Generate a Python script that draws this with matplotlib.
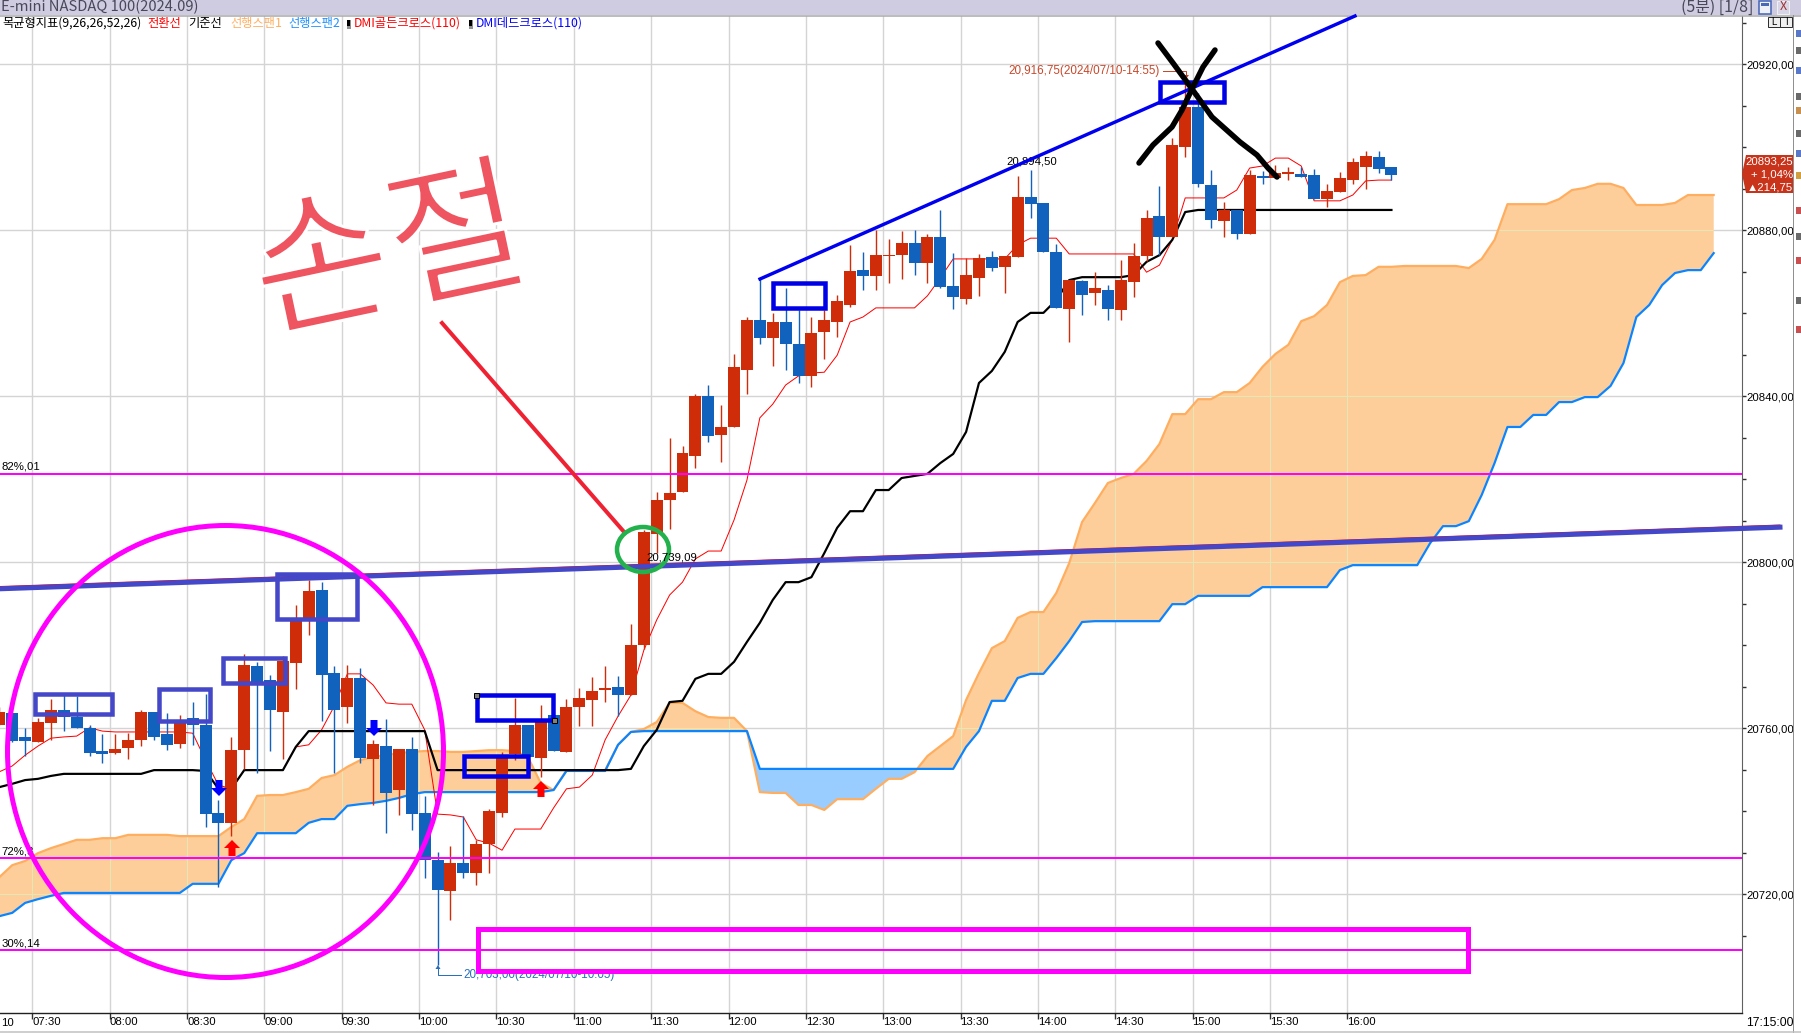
import matplotlib
matplotlib.use("Agg")
import matplotlib.pyplot as plt
import matplotlib.patheffects as pe
import numpy as np
from matplotlib.patches import Ellipse, Rectangle, Polygon
from matplotlib.path import Path

W, H = 1801, 1033
PX = 0.72  # one pixel in points at dpi 100
DIGITS = ['Liberation Sans', 'DejaVu Sans']
KOREAN = ['Noto Sans CJK KR', 'DejaVu Sans']

# 5 minute bars, the first one starts off the left edge
opens = [20760.75, 20763.75, 20758, 20756.75, 20761.25, 20764.5, 20762.75, 20760, 20754.5, 20754, 20755.25, 20757.25,
         20764, 20758.5, 20756.25, 20762.5, 20760.75, 20739.5, 20737.25, 20754.75, 20775, 20771.5, 20764, 20775.75,
         20786.25, 20793.25, 20773.25, 20765, 20772, 20752.5, 20755.75, 20745, 20755, 20739.5, 20728.25, 20720.75,
         20727.5, 20725, 20732, 20739.5, 20753.75, 20760.75, 20752.75, 20763.25, 20754.25, 20765, 20766.75, 20769.25,
         20770, 20768, 20780, 20806.75, 20815, 20817, 20825.5, 20840, 20830.75, 20832.5, 20846.25, 20858.5, 20854,
         20858, 20852.5, 20845, 20855.5, 20858, 20862, 20870.5, 20869, 20873.75, 20874, 20877, 20872, 20878.5,
         20866.5, 20863.5, 20868.5, 20873.5, 20871.25, 20873.5, 20888, 20886.5, 20874.75, 20861, 20867.75, 20865,
         20865.5, 20860.75, 20867.5, 20873.75, 20883.5, 20878.5, 20900, 20909.75, 20891, 20882.25, 20885, 20879,
         20893, 20892.5, 20893.5, 20893.5, 20893.25, 20887.5, 20889.25, 20892, 20895.25, 20897.75, 20895.25]
highs = [20765, 20763.75, 20760, 20762.5, 20767, 20768, 20767.75, 20760.75, 20758.5, 20758.5, 20758.75, 20764.5,
         20764, 20763.75, 20763.25, 20766.25, 20768.25, 20742.75, 20758, 20778, 20776, 20772.75, 20777.5, 20789.75,
         20795.75, 20795.25, 20775, 20775.25, 20774.5, 20757.25, 20762.25, 20755, 20758, 20743.75, 20730.25, 20731.5,
         20738.75, 20733, 20740.5, 20754.25, 20767.25, 20760.75, 20765.5, 20763.25, 20767, 20769.75, 20772.25, 20775,
         20772.5, 20785, 20807.75, 20817, 20830, 20828, 20840.5, 20842.75, 20838, 20850.25, 20859, 20868.25, 20860,
         20866, 20860.75, 20859, 20860.75, 20864.5, 20876.5, 20874.75, 20880, 20878, 20879.75, 20880, 20879, 20885,
         20874.5, 20873.25, 20874.25, 20875, 20873.75, 20893, 20894.5, 20886.5, 20876.75, 20868, 20868, 20870,
         20866.75, 20872.75, 20877, 20885, 20890.75, 20902.25, 20916.75, 20913, 20894.5, 20886.75, 20885, 20894.5,
         20894.25, 20895.75, 20895.25, 20895.25, 20894.75, 20891.25, 20894, 20897.5, 20899, 20899, 20895.25]
lows = [20760.75, 20756.75, 20753.25, 20756.75, 20757.25, 20759.25, 20760, 20753.25, 20751.5, 20753.75, 20752.5, 20755.75,
        20757.25, 20754.75, 20755.25, 20756, 20736.25, 20721.75, 20734, 20750.25, 20749.25, 20754.5, 20752.5, 20769.5,
        20782.5, 20761.75, 20749.25, 20761.25, 20751.5, 20741.5, 20734.75, 20739, 20735.5, 20724, 20703, 20713.75,
        20724, 20722.25, 20725, 20738.5, 20752.25, 20753, 20748.25, 20754.5, 20754.25, 20760.5, 20760.5, 20766.25,
        20763, 20768, 20779, 20802.25, 20808, 20817, 20822.75, 20829, 20824.25, 20832.5, 20840.5, 20852.5, 20847.25,
        20846.25, 20843.25, 20842.25, 20849, 20854.25, 20861.5, 20865.5, 20865.5, 20867.25, 20868.25, 20869.25, 20867.25,
        20866, 20861, 20862.25, 20864.25, 20870.25, 20865, 20873.5, 20883, 20874.75, 20861.25, 20853, 20859.5, 20862,
        20858.5, 20858.5, 20864, 20872.5, 20874, 20878.5, 20897.75, 20890.5, 20880.5, 20878.5, 20878, 20879,
        20891.25, 20892.5, 20892, 20892.75, 20887.5, 20885.5, 20889.25, 20891.25, 20890, 20893.75, 20892]
closes = [20764, 20757, 20757, 20761.5, 20764.5, 20762.75, 20760, 20754, 20753.75, 20755, 20757.25, 20764,
          20758, 20756, 20761.25, 20760.75, 20739.25, 20737.25, 20754.75, 20775.25, 20771, 20764.5, 20776.25, 20786.5,
          20793, 20772.75, 20764.5, 20772, 20752.75, 20756.25, 20744.5, 20755, 20739.25, 20728.25, 20721, 20727.5,
          20725, 20732, 20740, 20753, 20760.75, 20753, 20761.5, 20754.5, 20765, 20767.25, 20769, 20769.75,
          20768, 20780, 20807.25, 20815, 20816.75, 20826.25, 20840, 20830.5, 20832.5, 20847, 20858.5, 20854, 20858,
          20852.5, 20845, 20855.25, 20858.5, 20863, 20870.25, 20869, 20874, 20874, 20877, 20872, 20878.5,
          20866.25, 20864, 20869.25, 20873.25, 20871, 20873.75, 20888, 20886.25, 20874.75, 20861.25, 20868, 20864.5, 20866,
          20861, 20868, 20873.75, 20883, 20878.5, 20900.5, 20909.75, 20891.25, 20882.5, 20885, 20879, 20893.25,
          20892.5, 20893.75, 20894, 20892.75, 20887.5, 20889.5, 20892.5, 20896.5, 20898, 20894.75, 20893.25]

tenkan = [20749.5, 20750.9, 20753.5, 20755.7, 20757.6, 20757.9, 20758.1, 20760.1, 20759.3] + [20759.1] * 6 + \
         [20758.8, 20752.3, 20746.3, 20745.4] + [20749.9] * 4 + \
         [20755.5, 20756, 20759.6, 20765.4, 20773.1, 20773.1, 20770.4, 20766.1, 20765.8, 20765.8, 20759.6, 20739.3,
          20739.1, 20738.6, 20733.1, 20732.3, 20730.6, 20735.7, 20735.7, 20735.7, 20740.8, 20745.4, 20745.8, 20748.7,
          20757.2, 20762.9, 20768, 20778.8, 20786.1, 20792.1, 20795.2, 20800.8, 20802.7, 20802.7, 20810.2, 20819.8,
          20834.8, 20838.1, 20842.7, 20844.9, 20845.6, 20845.8, 20849.9, 20857.9, 20859.1] + [20861.3] * 4 + \
         [20864.2, 20868.5] + [20873.1] * 5 + [20876.5] + [20878.1] * 3 + [20874.3] * 6 + \
         [20869.9, 20871.6, 20877.7] + [20887.8] * 4 + \
         [20889.7, 20895, 20895.5, 20897.4, 20897.4, 20895.5] + [20887.1] * 3 + [20888.5, 20891.9, 20892.1, 20892.1]
kijun = [20745.8, 20746.6, 20747.5, 20747.8, 20748.5, 20749] + [20749] * 6 + [20749.9] * 4 + \
        [20749.7, 20745.4, 20745.4] + [20749.9] * 4 + [20755.5] + [20759.3] * 10 + [20749.9] * 15 + \
        [20750.2, 20755.7, 20759.6, 20766.3, 20766.6, 20771.9, 20773.1, 20773.1, 20776, 20780.8, 20785.4, 20790.9,
         20795.2, 20795.2, 20796.4, 20802.2, 20808.3, 20812.3, 20812.3, 20817.4, 20817.4, 20820.3, 20820.8, 20821.3,
         20823.9, 20826.1, 20831.4, 20843.2, 20846.1, 20850.7, 20857.9, 20860.1, 20860.1, 20863.2, 20868] + \
        [20868.7] * 4 + [20869.2, 20872.4, 20874, 20877.7, 20884.4] + [20884.9] * 16
span1 = [20724.1, 20727, 20728, 20729.9, 20731.1, 20732.1, 20733.1, 20733.1, 20733.5, 20733.5, 20734.3, 20734.3,
         20734.3, 20734.3, 20734, 20734, 20734, 20734, 20736.2, 20738.1, 20743.7, 20743.9, 20743.9, 20744.6, 20745.4,
         20748, 20748.7, 20750.7, 20752.3, 20753.1, 20753.5, 20754, 20754.3, 20754.5, 20754.5, 20754.3, 20754.3,
         20754.5, 20754.7, 20754.7, 20754.5, 20753.1, 20746.8, 20745.1] + [20749.9] * 4 + \
        [20756, 20759.1, 20759.8, 20761.5, 20766.1, 20766.1, 20764.1, 20762.7, 20762.5, 20762.5, 20759.3, 20744.6,
         20744.4, 20744.4, 20741.5, 20741.5, 20740.3] + [20742.9] * 3 + \
        [20745.4, 20747.8, 20747.8, 20749.4, 20753.3, 20755.7, 20758.1, 20766.8, 20773.3, 20779.3, 20781, 20786.6,
         20788, 20788, 20792.6, 20799.8, 20809.7, 20814.3, 20819.1, 20820.3, 20821.3, 20824.4, 20828.5, 20835.7,
         20835.7, 20839.3, 20839.3, 20841, 20841, 20843.2, 20847.1, 20850.2, 20852.4, 20858.1, 20859.3, 20862,
         20867.5, 20869, 20869.2, 20871.2, 20871.2] + [20871.4] * 5 + [20870.9, 20873.1, 20877.7] + [20886.3] * 4 + \
        [20887.5, 20889.7, 20890.2, 20891.2, 20891.2, 20890.2] + [20886.1] * 3 + [20886.6] + [20888.5] * 3
span2 = [20714.7, 20715.5, 20717.9, 20718.8, 20719.6, 20720.3] + [20720.3] * 9 + [20722.5] * 3 + \
        [20728.2, 20729.9] + [20734.7] * 4 + [20737.2, 20738.1, 20738.1, 20741.3, 20741.7, 20742, 20742.5, 20743.2,
                                              20744.1] + [20744.6] * 10 + [20745.1] + [20749.7] * 4 + \
        [20756, 20759.1] + [20759.3] * 9 + [20750.2] * 16 + \
        [20755.5, 20759.3, 20766.6, 20766.6, 20772.1, 20773.1, 20773.1, 20776.9, 20781, 20785.6] + [20785.8] * 6 + \
        [20789.9, 20789.9] + [20791.9] * 5 + [20794] * 6 + [20798.1] + [20799.3] * 6 + \
        [20804.6, 20808.7, 20808.7, 20809.9, 20816.2, 20823.9, 20832.6, 20832.6, 20835.5, 20835.5, 20838.6, 20838.6,
         20839.8, 20839.8, 20842.5, 20848, 20859.1, 20862, 20866.8, 20869.7, 20870.4, 20870.4, 20874.5]

levels = [20821.3, 20728.7, 20706.5]
level_labels = ['82%,01', '72%,3', '30%,14']
time_labels = ['07:30', '08:00', '08:30', '09:00', '09:30', '10:00', '10:30', '11:00', '11:30', '12:00', '12:30',
               '13:00', '13:30', '14:00', '14:30', '15:00', '15:30', '16:00']
price_ticks = [20720, 20760, 20800, 20840, 20880, 20920]
minor_ticks = [20710, 20730, 20740, 20750, 20770, 20780, 20790, 20810, 20820, 20830, 20850, 20860, 20870, 20890, 20900,
               20910, 20930]

# hand drawn things on the screenshot, in screen pixels
x_stroke1 = [(1158, 43), (1173, 63), (1192, 89), (1212, 117), (1240, 142), (1257, 155), (1268, 168), (1277, 177)]
x_stroke2 = [(1215, 50), (1203, 67), (1192, 89), (1182, 110), (1172, 127), (1153, 145), (1139, 163)]
purple_boxes = [(35, 694, 77, 20), (159, 689, 51, 32), (223, 658, 62, 25), (277, 574, 80, 45)]
blue_boxes = [(477, 695, 76, 25), (464, 756, 64, 20), (773, 283, 52, 25), (1160, 82, 64, 20)]
toolbar_y = [30, 47, 67, 93, 107, 130, 150, 172, 207, 233, 257, 297, 326]
toolbar_colors = ['#5a78c8', '#6a6a6a', '#5a78c8', '#6a6a6a', '#c89050', '#6a6a6a', '#5a78c8', '#d0a040', '#c85050',
                  '#6a6a6a', '#c85050', '#6a6a6a', '#c85050']

fig = plt.figure(figsize=(W / 100, H / 100), dpi=100, facecolor='white')
ax = fig.add_axes([0, 1 - 1013 / H, 1742 / W, (1013 - 16) / H])
ax.set_xlim(-38 / 12.89, (1742 - 38) / 12.89)
ax.set_ylim(20935.5 - 0.241 * 1013, 20935.5 - 0.241 * 16)

bars = np.arange(-3, -3 + len(opens))
cloud_x = np.arange(-3, -3 + len(span1))
line_x = np.arange(-3, -3 + len(kijun))
s1 = np.array(span1)
s2 = np.array(span2)

tick_x = -0.43 + 6 * np.arange(len(time_labels))
ax.set_xticks(tick_x)
ax.set_xticklabels(time_labels, family=DIGITS, fontsize=8.2, ha='left')
ax.yaxis.tick_right()
ax.set_yticks(price_ticks)
ax.set_yticklabels(['%d,00' % p for p in price_ticks], family=DIGITS, fontsize=8.2)
ax.set_yticks(minor_ticks, minor=True)
ax.tick_params(axis='y', which='both', length=3, width=1, color='#303030', pad=0)
ax.tick_params(axis='x', length=4, width=1, color='#303030', pad=-1)
ax.grid(True, color='#d4d4d4', lw=1.4 * PX, zorder=0)
ax.set_axisbelow(True)
for s in ['top', 'left']:
    ax.spines[s].set_visible(False)
ax.spines['right'].set_color('#606060')
ax.spines['bottom'].set_color('#202020')
ax.spines['bottom'].set_linewidth(1.4 * PX)

orange = ax.fill_between(cloud_x, s1, s2, where=s1 >= s2, interpolate=True, color='#fdcd9a', lw=0, zorder=1)
ax.fill_between(cloud_x, s1, s2, where=s1 <= s2, interpolate=True, color='#9acdff', lw=0, zorder=1)

# grid shows through the cloud as a pale green
clip = Path.make_compound_path(*orange.get_paths())
for t in tick_x:
    ax.axvline(t, color='#e3e8b4', lw=PX, zorder=1.1).set_clip_path(clip, ax.transData)
for p in price_ticks:
    ax.axhline(p, color='#e3e8b4', lw=PX, zorder=1.1).set_clip_path(clip, ax.transData)

ax.plot(cloud_x, span1, color='#ffae60', lw=2.2 * PX, zorder=2)
ax.plot(cloud_x, span2, color='#0a84ff', lw=2.2 * PX, zorder=2)
ax.plot(line_x, tenkan, color='#ff0000', lw=1.0 * PX, zorder=2.2)
ax.plot(line_x, kijun, color='#000000', lw=2.2 * PX, zorder=2.4)

o = np.array(opens)
c = np.array(closes)
colors = np.where(c >= o, '#cf2c0a', '#1062bd')
ax.vlines(bars, lows, highs, colors=colors, lw=1.4 * PX, zorder=3)
ax.bar(bars, np.maximum(np.abs(c - o), 0.4), bottom=np.minimum(o, c), width=0.93, color=colors, lw=0, zorder=3.1)

for lv in levels:
    ax.axhline(lv, color='#ff00ff', lw=2 * PX, zorder=4)
for lv, lab in zip(levels, level_labels):
    ax.text(0.001, lv + 1.7, lab, transform=ax.get_yaxis_transform(), family=DIGITS, fontsize=8.2, va='center', zorder=5)

ov = fig.add_axes([0, 0, 1, 1], facecolor='none')
ov.set_xlim(0, W)
ov.set_ylim(H, 0)
ov.axis('off')

# window chrome
ov.add_patch(Rectangle((0, 0), W, 15, color='#cfcce2', lw=0))
ov.plot([0, W], [15.5, 15.5], color='#a8a8a8', lw=1.5 * PX)
ov.text(1, 7, 'E-mini NASDAQ 100(2024.09)', family=KOREAN, fontsize=10.6, va='center', color='#484858')
ov.text(1753, 7, '(5분) [1/8]', family=KOREAN, fontsize=11.4, va='center', ha='right', color='#484858')
ov.add_patch(Rectangle((1759, 1), 12, 13, fc='#eef0f8', ec='#4a68b8', lw=1.6 * PX))
ov.add_patch(Rectangle((1761, 3), 8, 3, color='#4a68b8', lw=0))
ov.add_patch(Rectangle((1777, 1), 12, 13, fc='#d8d6e6', ec='#f0f0f0', lw=PX))
ov.text(1783, 7, 'X', family=KOREAN, fontsize=9, ha='center', va='center', color='#a03030')
ov.plot([1793, 1793], [15, 1033], color='#909090', lw=PX)
ov.add_patch(Rectangle((1768, 17), 12, 10, fc='#f0f0f0', ec='#303030', lw=PX))
ov.add_patch(Rectangle((1780, 17), 12, 10, fc='#f0f0f0', ec='#303030', lw=PX))
ov.text(1774, 22, 'L', family=DIGITS, fontsize=7, ha='center', va='center')
ov.text(1786, 22, 'I', family=DIGITS, fontsize=7, ha='center', va='center')
for ty, tc in zip(toolbar_y, toolbar_colors):
    ov.add_patch(Rectangle((1796, ty), 5, 7, color=tc, lw=0))
ov.plot([0, W], [1032, 1032], color='#c0c0c0', lw=1.5 * PX)

# indicator legend
legend_items = [(2, '목균형지표(9,26,26,52,26)', 'black'), (147, '전환선', 'red'), (188, '기준선', 'black'),
                (230, '선행스팬1', '#ffae60'), (288, '선행스팬2', '#1e90ff'),
                (354, 'DMI골든크로스(110)', 'red'), (476, 'DMI데드크로스(110)', 'blue')]
for lx, txt, col in legend_items:
    ov.text(lx, 23.5, txt, family=KOREAN, fontsize=8.8, va='center', color=col)
for lx in [347, 469]:
    ov.add_patch(Rectangle((lx, 20), 4, 9, color='#909090', lw=0))
    ov.add_patch(Rectangle((lx, 20), 3, 6, color='black', lw=0))

# thick hand drawn lines
ov.plot([0, 1780], [586.5, 525], color='#ff0000', lw=1.0 * PX, zorder=2)
ov.plot([0, 1780], [588.8, 527.2], color='#4347c8', lw=5 * PX, zorder=3)
ov.plot([760, 1355], [279, 16], color='#0000f0', lw=3.4 * PX, zorder=3)
ov.plot([442, 625], [323, 533], color='#ee2233', lw=4 * PX, zorder=3)
for x0, y0, w, h in purple_boxes:
    ov.add_patch(Rectangle((x0, y0), w, h, fill=False, ec='#4347c8', lw=4.5 * PX, zorder=3))
for x0, y0, w, h in blue_boxes:
    ov.add_patch(Rectangle((x0, y0), w, h, fill=False, ec='#0000e6', lw=4.5 * PX, zorder=3))
for hx, hy in [(476, 695), (554, 720)]:
    ov.add_patch(Rectangle((hx - 2.5, hy - 2.5), 5, 5, fc='#808080', ec='black', lw=PX, zorder=4))
ov.add_patch(Rectangle((478, 929), 990, 42, fill=False, ec='#ff00ff', lw=5 * PX, zorder=3))
ov.add_patch(Ellipse((225.5, 751.5), 436, 452, fill=False, ec='#ff00ff', lw=5 * PX, zorder=3))
ov.add_patch(Ellipse((643, 549.5), 52, 45, fill=False, ec='#22b14c', lw=4.5 * PX, zorder=3))
for stroke in [x_stroke1, x_stroke2]:
    xs, ys = zip(*stroke)
    ov.plot(xs, ys, color='black', lw=5.5 * PX, solid_capstyle='round', solid_joinstyle='round', zorder=4)

note = ov.text(390, 258, '손절', family=KOREAN, fontsize=108, ha='center', va='center', rotation=12, color='#ee5560',
               zorder=3)
note.set_path_effects([pe.Stroke(linewidth=2.2, foreground='white')])

# signal arrows
for ax_, ay, col, d in [(219, 780, '#0000ff', 1), (374, 720, '#0000ff', 1), (232, 856, '#ff0000', -1),
                        (541, 797, '#ff0000', -1)]:
    ov.add_patch(Polygon([(ax_ - 3.5, ay), (ax_ + 3.5, ay), (ax_ + 3.5, ay + d * 8), (ax_ + 8, ay + d * 8),
                          (ax_, ay + d * 16), (ax_ - 8, ay + d * 8), (ax_ - 3.5, ay + d * 8)], color=col, lw=0, zorder=3))

# value labels
ov.text(1160, 71, '20,916,75(2024/07/10-14:55)', family=DIGITS, fontsize=8.4, ha='right', va='center', color='#c8482a',
        zorder=2)
ov.plot([1163, 1186, 1186], [71, 71, 76], color='#c8482a', lw=PX, zorder=2)
ov.add_patch(Polygon([(1183, 75), (1189, 75), (1186, 79)], color='#c8482a', lw=0, zorder=2))
ov.text(1006, 162, '20,894,50', family=DIGITS, fontsize=8.2, va='center', color='black', zorder=2)
ov.text(646, 557, '20,739,09', family=DIGITS, fontsize=8.2, va='center', color='black', zorder=4)
ov.text(463, 975, '20,703,00(2024/07/10-10:05)', family=DIGITS, fontsize=8.4, va='center', color='#2a6fbb', zorder=2)
ov.plot([438, 438, 461], [968, 975, 975], color='#2a6fbb', lw=PX, zorder=2)
ov.add_patch(Polygon([(435.5, 969), (440.5, 969), (438, 965)], color='#2a6fbb', lw=0, zorder=2))
ov.text(1, 1023, '10', family=DIGITS, fontsize=8.2, va='center', color='black')
ov.text(1746, 1023, '17:15:00', family=DIGITS, fontsize=8.8, va='center', color='black')

# last price tag
ov.add_patch(Polygon([(1742, 174), (1746, 155), (1793, 155), (1793, 193), (1746, 193)], color='#c8331a', lw=0, zorder=3))
for ty, txt in [(162, '20893,25'), (174.5, '+ 1,04%'), (187, '▲214,75')]:
    ov.text(1793, ty, txt, family=DIGITS, fontsize=8.2, ha='right', va='center', color='white', zorder=4)

fig.savefig('out.png', dpi=100)
